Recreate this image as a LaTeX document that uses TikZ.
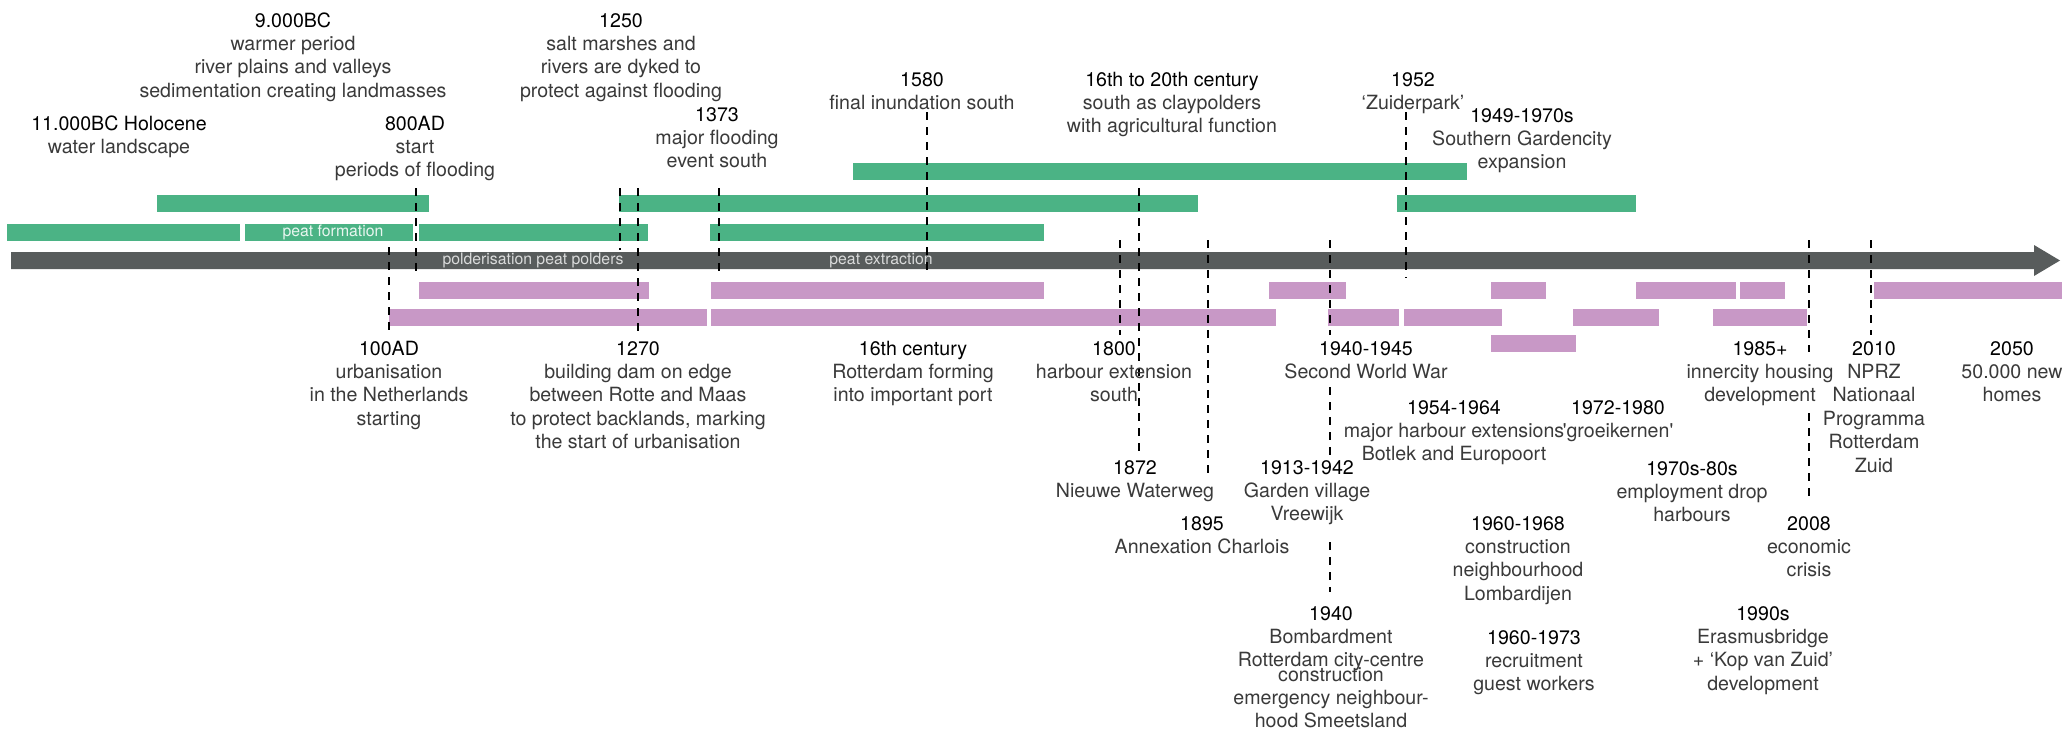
\documentclass[tikz,border=0pt]{standalone}
\usepackage{fontspec}
\setmainfont{TeX Gyre Heros}
\definecolor{barGreen}{HTML}{4BB385}
\definecolor{barPurple}{HTML}{C898C6}
\definecolor{axisGray}{HTML}{585C5C}
\definecolor{txtGray}{HTML}{3A3A3A}
\newcommand{\hd}[1]{{\color{black}#1}}
\begin{document}
\begin{tikzpicture}[x=0.5pt,y=-0.5pt,
  gbar/.style={fill=barGreen},
  pbar/.style={fill=barPurple},
  vdash/.style={draw=black,line width=0.9pt,dash pattern=on 4pt off 3.5pt},
  lbl/.style={align=center,anchor=base,inner sep=0pt,text=txtGray,
    font=\fontsize{9.8}{11.7}\selectfont,yshift={-(#1-1)*11.7pt}},
  inbar/.style={inner sep=0pt,anchor=center,font=\fontsize{7.9}{9}\selectfont}]
\useasboundingbox (0,0) rectangle (2067,739);
\fill[white] (0,0) rectangle (2067,739);
% green bars
\fill[gbar] (853,163) rectangle (1467,180);
\foreach \a/\b in {157/429,619/1198,1397/1636} \fill[gbar] (\a,195) rectangle (\b,212);
\foreach \a/\b in {7/240,245/413,419/648,710/1044} \fill[gbar] (\a,224) rectangle (\b,241);
% axis arrow
\fill[axisGray] (11,252) -- (2034,252) -- (2034,245) -- (2060,260.5) -- (2034,276) -- (2034,269) -- (11,269) -- cycle;
% purple bars
\foreach \a/\b in {419/649,711/1044,1269/1346,1491/1546,1636/1691,1691/1736,1740/1785,1874/2062} \fill[pbar] (\a,282) rectangle (\b,299);
\foreach \a/\b in {389/707,711/1276,1328/1399,1404/1502,1573/1659,1713/1807} \fill[pbar] (\a,309) rectangle (\b,326);
\fill[pbar] (1491,335) rectangle (1576,352);
% labels inside bars
\node[inbar,text=white!88!barGreen] (pf) at (333,232.5) {peat formation};
\node[inbar,text=white!78!axisGray] (pp) at (533,260.5) {polderisation peat polders};
\node[inbar,text=white!78!axisGray] (pe) at (881,260.5) {peat extraction};
% dashed marker lines
\foreach \x/\a/\b in {389/247/335,416/188/275,620/188/250,638/188/333,719/188/275,927/112/275,
  1120/240/335,1139/188/455,1208/240/475,1330/240/335,1330/387/455,1330/542/592,
  1406/112/278,1809/240/352,1809/413/500,1871/240/335}
  \draw[vdash] (\x,\a) -- (\x,\b);
% top labels
\node[lbl=4] (t1) at (293,27) {\hd{9.000BC}\\warmer period\\river plains and valleys\\sedimentation creating landmasses};
\node[lbl=2] (t2) at (119,130) {\hd{11.000BC Holocene}\\water landscape};
\node[lbl=3] (t3) at (415,130) {\hd{800AD}\\start\\periods of flooding};
\node[lbl=4] (t4) at (621,27) {\hd{1250}\\salt marshes and\\rivers are dyked to\\protect against flooding};
\node[lbl=2] (t5) at (922,86) {\hd{1580}\\final inundation south};
\node[lbl=3] (t6) at (717,121) {\hd{1373}\\major flooding\\event south};
\node[lbl=3] (t7) at (1172,86) {\hd{16th to 20th century}\\south as claypolders\\with agricultural function};
\node[lbl=2] (t8) at (1413,86) {\hd{1952}\\‘Zuiderpark’};
\node[lbl=3] (t9) at (1522,122) {\hd{1949-1970s}\\Southern Gardencity\\expansion};
% bottom labels
\node[lbl=4] (b1) at (389,355) {\hd{100AD}\\urbanisation\\in the Netherlands\\starting};
\node[lbl=5] (b2) at (638,355) {\hd{1270}\\building dam on edge\\between Rotte and Maas\\to protect backlands, marking\\the start of urbanisation};
\node[lbl=3] (b3) at (913,355) {\hd{16th century}\\Rotterdam forming\\into important port};
\node[lbl=3] (b4) at (1114,355) {\hd{1800}\\harbour extension\\south};
\node[lbl=2] (b5) at (1366,355) {\hd{1940-1945}\\Second World War};
\node[lbl=3] (b6) at (1760,355) {\hd{1985+}\\innercity housing\\development};
\node[lbl=6] (b7) at (1874,355) {\hd{2010}\\NPRZ\\Nationaal\\Programma\\Rotterdam\\Zuid};
\node[lbl=3] (b8) at (2012,355) {\hd{2050}\\50.000 new\\homes};
\node[lbl=3] (b9) at (1454,414) {\hd{1954-1964}\\major harbour extensions\\Botlek and Europoort};
\node[lbl=2] (b10) at (1618,414) {\hd{1972-1980}\\\textquotesingle groeikernen\textquotesingle};
\node[lbl=2] (b11) at (1135,474) {\hd{1872}\\Nieuwe Waterweg};
\node[lbl=3] (b12) at (1307,474) {\hd{1913-1942}\\Garden village\\Vreewijk};
\node[lbl=3] (b13) at (1692,475) {\hd{1970s-80s}\\employment drop\\harbours};
\node[lbl=2] (b14) at (1202,530) {\hd{1895}\\Annexation Charlois};
\node[lbl=4] (b15) at (1518,530) {\hd{1960-1968}\\construction\\neighbourhood\\Lombardijen};
\node[lbl=3] (b16) at (1809,530) {\hd{2008}\\economic\\crisis};
\node[lbl=3] (b17) at (1331,620) {\hd{1940}\\Bombardment\\Rotterdam city-centre};
\node[lbl=3] (b18) at (1331,681) {construction\\emergency neighbour-\\hood Smeetsland};
\node[lbl=3] (b19) at (1534,644) {\hd{1960-1973}\\recruitment\\guest workers};
\node[lbl=4] (b20) at (1763,620) {\hd{1990s}\\Erasmusbridge\\+ ‘Kop van Zuid’\\development};
\end{tikzpicture}
\end{document}
